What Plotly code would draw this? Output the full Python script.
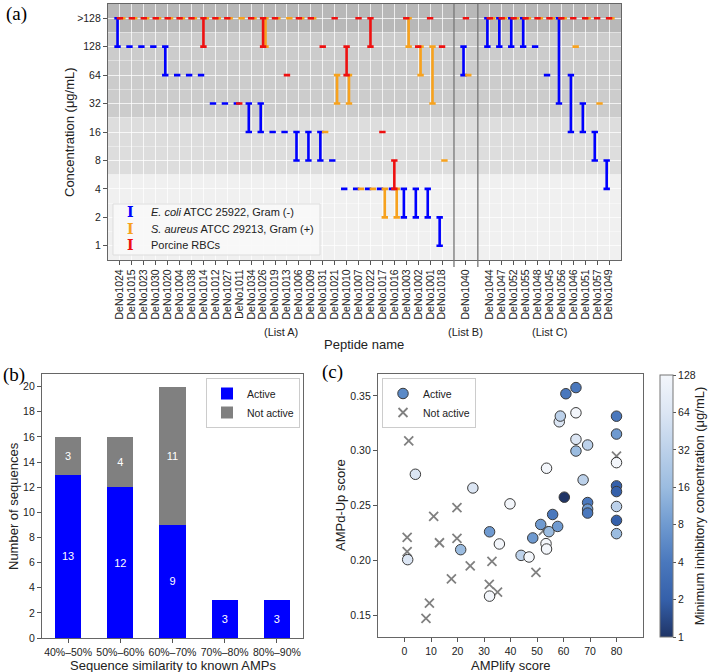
import numpy as np
import plotly.graph_objects as go

W, H = 709, 672
def px(p):  # horizontal pixel -> paper
    return p / W
def py(p):  # vertical pixel (from top) -> paper
    return 1 - p / H

FONT = "Liberation Sans, Arial, sans-serif"
SERIF = "Liberation Serif, Times New Roman, serif"

# ---------------- Panel (a) data ----------------
list_a = ["DeNo1024", "DeNo1015", "DeNo1023", "DeNo1030", "DeNo1020", "DeNo1004", "DeNo1038",
          "DeNo1014", "DeNo1012", "DeNo1027", "DeNo1011", "DeNo1034", "DeNo1026", "DeNo1019",
          "DeNo1013", "DeNo1006", "DeNo1009", "DeNo1031", "DeNo1021", "DeNo1010", "DeNo1007",
          "DeNo1022", "DeNo1017", "DeNo1016", "DeNo1003", "DeNo1002", "DeNo1001", "DeNo1018"]
list_b = ["DeNo1040"]
list_c = ["DeNo1044", "DeNo1047", "DeNo1052", "DeNo1055", "DeNo1048", "DeNo1045", "DeNo1056",
          "DeNo1046", "DeNo1051", "DeNo1057", "DeNo1049"]
list_labels = ["(List A)", "(List B)", "(List C)"]

conc_levels = [1, 2, 4, 8, 16, 32, 64, 128, 256]          # 256 stands for ">128"
conc_ticktext = ["1", "2", "4", "8", "16", "32", "64", "128", ">128"]

# MIC ranges (low, high) in ug/mL; 256 = ">128"
ecoli_lo = [128, 128, 128, 128, 64, 64, 64, 64, 32, 32, 32, 16, 16, 16, 16, 8, 8, 8, 8, 4, 4, 4, 4, 4, 2, 2, 2, 1,
            64,
            128, 128, 128, 128, 128, 64, 32, 16, 16, 8, 4]
ecoli_hi = [256, 128, 128, 128, 128, 64, 64, 64, 32, 32, 32, 32, 32, 16, 16, 16, 16, 16, 8, 4, 4, 4, 4, 4, 4, 4, 4, 2,
            128,
            256, 256, 256, 256, 128, 64, 256, 64, 32, 16, 8]
saureus_lo = [256, 256, 256, 256, 256, 256, 256, 256, 256, 256, 256, 256, 128, 256, 256, 256, 256, 16, 32, 32,
              4, 4, 2, 2, 128, 64, 32, 8,
              64,
              256, 256, 256, 256, 256, 256, 256, 128, 256, 32, 256]
saureus_hi = [256, 256, 256, 256, 256, 256, 256, 256, 256, 256, 256, 256, 256, 256, 256, 256, 256, 16, 64, 64,
              4, 4, 4, 4, 256, 128, 128, 8,
              64,
              256, 256, 256, 256, 256, 256, 256, 128, 256, 32, 256]
rbc_lo = [256, 256, 256, 256, 256, 256, 256, 128, 256, 256, 32, 256, 128, 256, 64, 256, 256, 128, 256, 64,
          256, 128, 16, 4, 256, 128, 256, 128,
          256,
          256, 256, 256, 256, 256, 256, 256, 256, 256, 256, 256]
rbc_hi = [256, 256, 256, 256, 256, 256, 256, 256, 256, 256, 32, 256, 256, 256, 64, 256, 256, 128, 256, 128,
          256, 256, 16, 8, 256, 128, 256, 128,
          256,
          256, 256, 256, 256, 256, 256, 256, 256, 256, 256, 256]

series_names = ["<i>E. coli</i> ATCC 25922, Gram (-)",
                "<i>S. aureus</i> ATCC 29213, Gram (+)",
                "Porcine RBCs"]
series_colors = ["#0000ff", "#f7a21e", "#ee1111"]

# ---------------- Panel (b) data ----------------
sim_bins = ["40%–50%", "50%–60%", "60%–70%", "70%–80%", "80%–90%"]
active_counts = [13, 12, 9, 3, 3]
notactive_counts = [3, 4, 11, 0, 0]

# ---------------- Panel (c) data ----------------
active_amplify = [1.2, 4.1, 21.2, 25.8, 32.1, 32.1, 35.8, 39.8, 44.0, 47.0, 48.4, 51.4, 53.4, 53.6,
                  53.6, 54.5, 55.9, 57.8, 58.4, 58.8, 60.3, 60.9, 64.7, 64.7, 64.7, 64.7, 67.4, 69.1,
                  69.1, 69.1, 69.1, 80, 80, 80, 80, 80, 80, 80, 80]
active_ampdup = [0.2006, 0.2785, 0.2097, 0.266, 0.226, 0.1673, 0.2149, 0.2515, 0.2045, 0.203, 0.2204,
                 0.2327, 0.2152, 0.2103, 0.284, 0.2261, 0.2418, 0.2309, 0.3264, 0.3316, 0.2576, 0.352,
                 0.3576, 0.3346, 0.3104, 0.2997, 0.2734, 0.3052, 0.2527, 0.2467, 0.2431, 0.3315, 0.3152,
                 0.2891, 0.2679, 0.2627, 0.2491, 0.2364, 0.2243]
active_mic = [64, 64, 16, 64, 8, 128, 128, 128, 32, 128, 8, 8, 128, 128,
              128, 16, 4, 8, 64, 32, 1, 4, 4, 128, 64, 16, 32, 32,
              4, 8, 4, 4, 8, 128, 2, 2, 32, 2, 16]
inactive_amplify = [1.6, 1.0, 1.0, 8.1, 9.4, 11.0, 13.2, 17.7, 19.8, 19.8, 24.8, 32.0, 33.0, 35.1,
                    49.6, 52.4, 80]
inactive_ampdup = [0.309, 0.221, 0.208, 0.147, 0.161, 0.240, 0.216, 0.183, 0.248, 0.220, 0.195,
                   0.178, 0.199, 0.171, 0.189, 0.227, 0.295]
mic_ticks = [1, 2, 4, 8, 16, 32, 64, 128]

mic_colorscale = [[0.0, "#1f3466"], [1 / 7, "#3560aa"], [2 / 7, "#4a78bd"], [3 / 7, "#6f9ad0"],
                  [4 / 7, "#9bbce0"], [5 / 7, "#bcd1ea"], [6 / 7, "#dce6f4"], [1.0, "#f3f6fb"]]

# ---------------- build figure ----------------
fig = go.Figure()

names_all = list_a + list_b + list_c
group_idx = [0] * len(list_a) + [1] * len(list_b) + [2] * len(list_c)
pos = np.arange(len(names_all)) + np.array(group_idx)        # one empty slot between lists
group_centers = [float(np.mean(pos[np.array(group_idx) == g])) for g in range(3)]
separators = [(pos[len(list_a) - 1] + pos[len(list_a)]) / 2,
              (pos[len(list_a)] + pos[len(list_a) + 1]) / 2]

offsets = [-0.2, 0.2, 0.0]
ranges = [(ecoli_lo, ecoli_hi), (saureus_lo, saureus_hi), (rbc_lo, rbc_hi)]
for (lo, hi), col, off in zip(ranges, series_colors, offsets):
    lo_l = np.log2(np.array(lo, dtype=float))
    hi_l = np.log2(np.array(hi, dtype=float))
    fig.add_trace(go.Scatter(
        x=pos + off, y=lo_l, mode="markers",
        marker=dict(size=1, color="rgba(0,0,0,0)"),
        error_y=dict(type="data", symmetric=False, array=hi_l - lo_l,
                     arrayminus=np.zeros(len(lo_l)), color=col, thickness=2.6, width=3.2),
        xaxis="x", yaxis="y", showlegend=False, hoverinfo="skip"))

# Panel (b)
fig.add_trace(go.Bar(x=sim_bins, y=active_counts, name="Active", marker_color="#0000ff",
                     marker_line_width=0, width=0.5,
                     text=[str(v) if v else "" for v in active_counts], textposition="inside",
                     insidetextanchor="middle", textangle=0,
                     textfont=dict(color="white", size=11, family=FONT),
                     xaxis="x2", yaxis="y2", legend="legend", legendrank=1))
fig.add_trace(go.Bar(x=sim_bins, y=notactive_counts, name="Not active", marker_color="#808080",
                     marker_line_width=0, width=0.5,
                     text=[str(v) if v else "" for v in notactive_counts], textposition="inside",
                     insidetextanchor="middle", textangle=0,
                     textfont=dict(color="white", size=11, family=FONT),
                     xaxis="x2", yaxis="y2", legend="legend", legendrank=2))

# Panel (c)
fig.add_trace(go.Scatter(x=inactive_amplify, y=inactive_ampdup, mode="markers", name="Not active",
                         marker=dict(symbol="x-thin", size=9, color="#808080",
                                     line=dict(width=1.8, color="#808080")),
                         xaxis="x3", yaxis="y3", legend="legend2", legendrank=2))
fig.add_trace(go.Scatter(
    x=active_amplify, y=active_ampdup, mode="markers", name="Active", showlegend=False,
    marker=dict(symbol="circle", size=10.5, color=np.log2(np.array(active_mic, dtype=float)),
                colorscale=mic_colorscale, cmin=0, cmax=7,
                line=dict(width=1, color="#3a3a3a"),
                colorbar=dict(x=px(660), xanchor="left", xpad=0, y=py(637), yanchor="bottom",
                              ypad=0, len=262 / H, lenmode="fraction", thickness=13,
                              outlinewidth=1, outlinecolor="#777777",
                              tickvals=list(np.log2(mic_ticks)), ticktext=[str(t) for t in mic_ticks],
                              ticks="outside", ticklen=3, tickcolor="#555555",
                              tickfont=dict(size=10.5, family=FONT, color="#222222"),
                              title=dict(text="Minimum inhibitory concentration (μg/mL)", side="right",
                                         font=dict(size=13, family=FONT, color="#222222")))),
    xaxis="x3", yaxis="y3", legend="legend2"))
fig.add_trace(go.Scatter(x=[None], y=[None], mode="markers", name="Active",
                         marker=dict(symbol="circle", size=10.5, color="#5b8ac7",
                                     line=dict(width=1, color="#3a3a3a")),
                         xaxis="x3", yaxis="y3", legend="legend2", legendrank=1))

axis_common = dict(showline=True, mirror=True, linecolor="#666666", linewidth=1.2,
                   ticks="outside", ticklen=4, tickcolor="#555555", zeroline=False,
                   tickfont=dict(size=10.5, family=FONT, color="#222222"))

fig.update_layout(
    width=W, height=H, margin=dict(l=0, r=0, t=0, b=0), autosize=False,
    template="none", paper_bgcolor="white", plot_bgcolor="white",
    font=dict(family=FONT, size=11, color="#222222"),
    barmode="stack",
    xaxis=dict(domain=[px(108), px(621)], anchor="y", range=[-1, 42],
               tickmode="array", tickvals=list(pos), ticktext=names_all, tickangle=-90,
               showgrid=True, gridcolor="rgba(255,255,255,0.75)", gridwidth=1, **axis_common),
    yaxis=dict(domain=[py(260), py(4)], anchor="x", range=[-0.5, 8.5],
               tickmode="array", tickvals=list(np.log2(conc_levels)), ticktext=conc_ticktext,
               showgrid=True, gridcolor="rgba(255,255,255,0.75)", gridwidth=1,
               minor=dict(tickvals=list(np.log2(conc_levels[:-1]) + 0.5), showgrid=True,
                          gridcolor="rgba(255,255,255,0.4)", gridwidth=0.6),
               **axis_common),
    xaxis2=dict(domain=[px(42), px(303)], anchor="y2", range=[-0.5, 4.5], showgrid=False,
                **axis_common),
    yaxis2=dict(domain=[py(638), py(374)], anchor="x2", range=[0, 21], dtick=2, tick0=0,
                showgrid=False, **axis_common),
    xaxis3=dict(domain=[px(378), px(643)], anchor="y3", range=[-10, 90],
                tickmode="array", tickvals=[0, 10, 20, 30, 40, 50, 60, 70, 80], showgrid=False,
                **axis_common),
    yaxis3=dict(domain=[py(637), py(374)], anchor="x3", range=[0.13, 0.37],
                tickmode="array", tickvals=[0.15, 0.20, 0.25, 0.30, 0.35], tickformat=".2f",
                showgrid=False, **axis_common),
    legend=dict(x=px(300), y=py(378), xanchor="right", yanchor="top", bgcolor="white",
                bordercolor="#cccccc", borderwidth=1, traceorder="normal",
                font=dict(size=10.5, family=FONT, color="#222222")),
    legend2=dict(x=px(382), y=py(378), xanchor="left", yanchor="top", bgcolor="white",
                 bordercolor="#cccccc", borderwidth=1, traceorder="normal",
                 font=dict(size=10.5, family=FONT, color="#222222")),
)

# background concentration bands for panel (a)
bands = [(-0.5, 2.5, "#f0f0f0"), (2.5, 4.5, "#dddddd"), (4.5, 7.5, "#cccccc"), (7.5, 8.5, "#b8b8b8")]
shapes = []
for y0, y1, c in bands:
    shapes.append(dict(type="rect", xref="x domain", yref="y", x0=0, x1=1, y0=y0, y1=y1,
                       fillcolor=c, line=dict(width=0), layer="below"))
for s in separators:
    shapes.append(dict(type="line", xref="x", yref="paper", x0=s, x1=s, y0=py(267), y1=py(4),
                       line=dict(color="#777777", width=1.3), layer="above"))
# legend box for panel (a)
shapes.append(dict(type="rect", xref="paper", yref="paper", x0=px(113), x1=px(320),
                   y0=py(255), y1=py(204), fillcolor="rgba(248,248,248,0.9)",
                   line=dict(color="#dddddd", width=1), layer="above"))
fig.update_layout(shapes=shapes)

ann = []
def txt(x, y, t, size=13, angle=0, xref="paper", yref="paper", family=FONT, color="#222222",
        xanchor="center"):
    ann.append(dict(x=x, y=y, xref=xref, yref=yref, text=t, showarrow=False, textangle=angle,
                    xanchor=xanchor, yanchor="middle",
                    font=dict(size=size, family=family, color=color)))

txt(px(16), py(14), "(a)", size=19, family=SERIF, color="black")
txt(px(14), py(375), "(b)", size=19, family=SERIF, color="black")
txt(px(332), py(372), "(c)", size=19, family=SERIF, color="black")
txt(px(70), py(132), "Concentration (μg/mL)", angle=-90)
txt(px(364), py(344), "Peptide name")
for g, lab in enumerate(list_labels):
    txt(group_centers[g], py(332), lab, size=11, xref="x")
txt(px(13), py(506), "Number of sequences", angle=-90)
txt(px(172.5), py(665), "Sequence similarity to known AMPs")
txt(px(340), py(505), "AMPd-Up score", angle=-90)
txt(px(510.5), py(665), "AMPlify score")

# custom legend entries for panel (a)
leg_y = [212, 229, 245]
for name, col, yy in zip(series_names, series_colors, leg_y):
    txt(px(130), py(yy), "<b>I</b>", size=14, family="DejaVu Serif", color=col)
    txt(px(149), py(yy), name, size=11, xanchor="left")

fig.update_layout(annotations=ann)

fig.write_html("out.html", config={"displayModeBar": False},
               post_script="document.body.style.margin='0px';document.body.style.overflow='hidden';")
